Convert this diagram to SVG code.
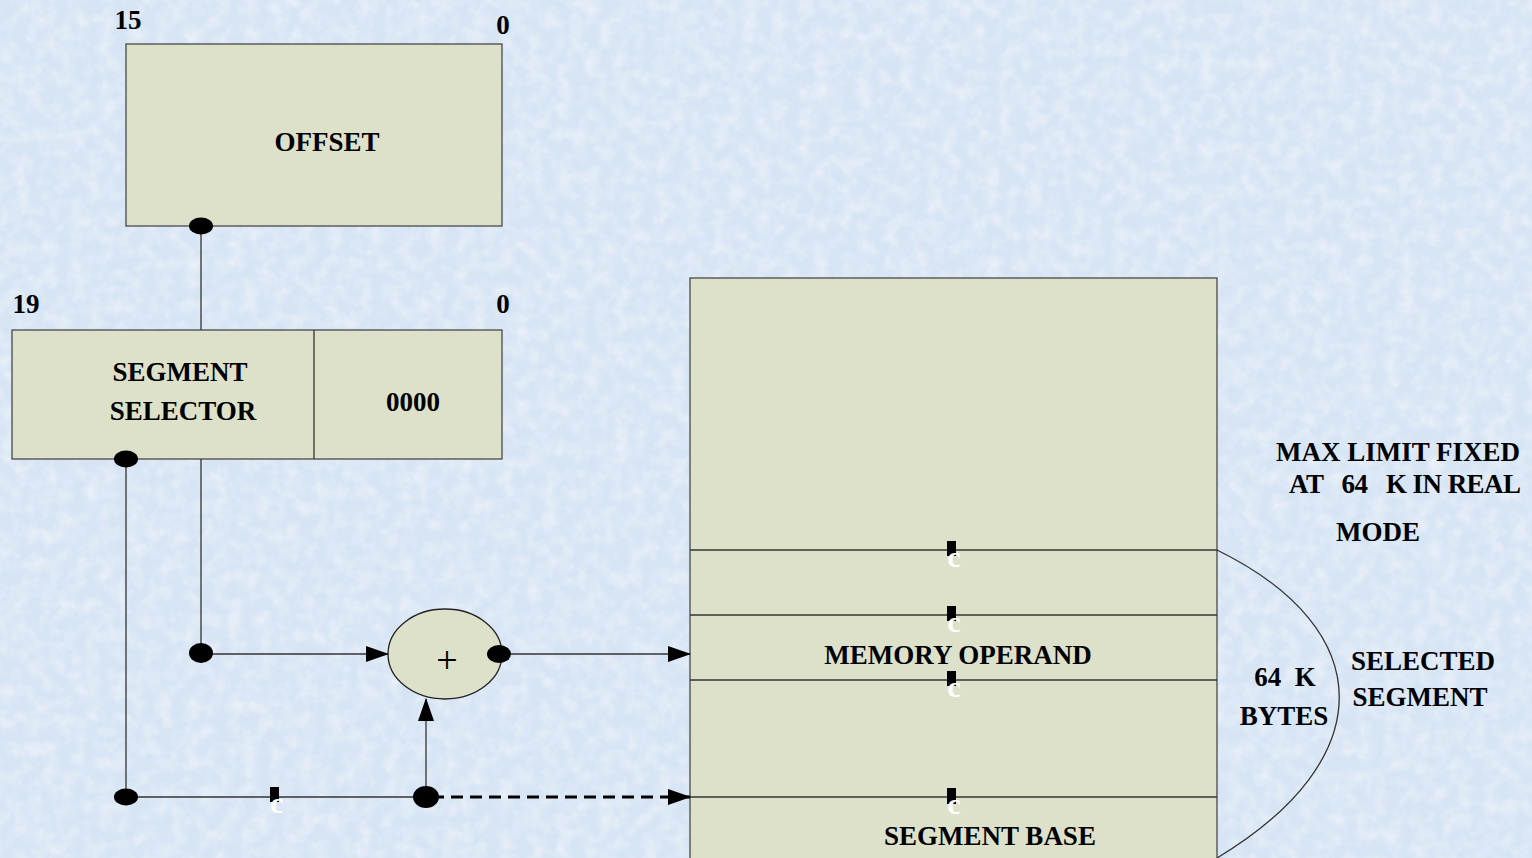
<svg xmlns="http://www.w3.org/2000/svg" width="1532" height="858" viewBox="0 0 1532 858">
<defs>
<marker id="arr" markerWidth="24" markerHeight="18" refX="22" refY="9" orient="auto" markerUnits="userSpaceOnUse">
<path d="M0,1 L23,9 L0,17 Z" fill="#000"/>
</marker>
<filter id="tex" x="0" y="0" width="100%" height="100%">
<feTurbulence type="fractalNoise" baseFrequency="0.07" numOctaves="3" seed="4" result="n"/>
<feColorMatrix in="n" type="matrix" values="0 0 0 0 1  0 0 0 0 1  0 0 0 0 1  0 0 0 1.4 -0.5"/>
</filter>
<style>
.box{fill:#dde1ca;stroke:#3c3c3c;stroke-width:1.2}
.ln{fill:none;stroke:#333;stroke-width:1.3}
.t{font-family:"Liberation Serif","Times New Roman",serif;font-weight:bold;font-size:27px;fill:#000;text-anchor:middle}
.dot{fill:#000}
.mk{fill:#000}
.c{font-family:"Liberation Serif","Times New Roman",serif;font-weight:bold;font-size:30px;fill:#fff;text-anchor:middle}
</style>
</defs>
<rect width="1532" height="858" fill="#d6e4f4"/>
<rect width="1532" height="858" filter="url(#tex)" opacity="0.6"/>

<g id="offset">
<rect class="box" x="126" y="44" width="376" height="182"/>
<text class="t" x="327" y="151">OFFSET</text>
<text class="t" x="128" y="29">15</text>
<text class="t" x="503" y="34">0</text>
</g>

<g id="segment-register">
<rect class="box" x="12" y="330" width="490" height="129"/>
<line class="ln" x1="314" y1="330" x2="314" y2="459"/>
<text class="t" x="180" y="381">SEGMENT</text>
<text class="t" x="183" y="420">SELECTOR</text>
<text class="t" x="413" y="411">0000</text>
<text class="t" x="26" y="313">19</text>
<text class="t" x="503" y="313">0</text>
</g>

<g id="adder">
<ellipse cx="445" cy="654" rx="57" ry="45" fill="#dde1ca" stroke="#222" stroke-width="1.3"/>
<text x="447" y="673" font-family="Liberation Serif,serif" font-size="38" text-anchor="middle" fill="#000">+</text>
</g>

<g id="memory">
<rect class="box" x="690" y="278" width="527" height="590"/>
<line class="ln" x1="690" y1="550" x2="1217" y2="550"/>
<line class="ln" x1="690" y1="615" x2="1217" y2="615"/>
<line class="ln" x1="690" y1="680" x2="1217" y2="680"/>
<line class="ln" x1="690" y1="797" x2="1217" y2="797"/>
<text class="t" x="958" y="664">MEMORY OPERAND</text>
<text class="t" x="990" y="845">SEGMENT BASE</text>
<rect class="mk" x="947" y="541" width="9" height="15"/>
<text class="c" x="954" y="567">c</text>
<rect class="mk" x="947" y="606" width="9" height="15"/>
<text class="c" x="954" y="632">c</text>
<rect class="mk" x="947" y="671" width="9" height="15"/>
<text class="c" x="954" y="697">c</text>
<rect class="mk" x="947" y="788" width="9" height="16"/>
<text class="c" x="954" y="814">c</text>
</g>

<g id="labels">
<text class="t" x="1398" y="461">MAX LIMIT FIXED</text>
<text class="t" x="1289" y="493" style="text-anchor:start" textLength="232" lengthAdjust="spacing" xml:space="preserve">AT   64   K IN REAL</text>
<text class="t" x="1378" y="541">MODE</text>
<text class="t" x="1285" y="686" xml:space="preserve">64  K</text>
<text class="t" x="1284" y="725">BYTES</text>
<text class="t" x="1423" y="670">SELECTED</text>
<text class="t" x="1420" y="706">SEGMENT</text>
</g>

<g id="connectors">
<line class="ln" x1="201" y1="226" x2="201" y2="330"/>
<line class="ln" x1="126" y1="459" x2="126" y2="797"/>
<line class="ln" x1="201" y1="459" x2="201" y2="653"/>
<line class="ln" x1="201" y1="654" x2="388" y2="654" marker-end="url(#arr)"/>
<line class="ln" x1="499" y1="654" x2="690" y2="654" marker-end="url(#arr)"/>
<line class="ln" x1="126" y1="797" x2="426" y2="797"/>
<line class="ln" x1="426" y1="797" x2="426" y2="699" marker-end="url(#arr)"/>
<line x1="432" y1="797" x2="690" y2="797" stroke="#000" stroke-width="3" stroke-dasharray="12,7" marker-end="url(#arr)"/>
<path class="ln" d="M1217,550 C1380,630 1380,760 1217,858"/>
<ellipse class="dot" cx="201" cy="226" rx="12" ry="8.5"/>
<ellipse class="dot" cx="126" cy="459" rx="12" ry="8.5"/>
<ellipse class="dot" cx="201" cy="653" rx="12" ry="10"/>
<ellipse class="dot" cx="499" cy="654" rx="12" ry="9"/>
<ellipse class="dot" cx="126" cy="797" rx="12" ry="8.5"/>
<ellipse class="dot" cx="426" cy="797" rx="13" ry="11"/>
<rect class="mk" x="270" y="787" width="9" height="15"/>
<text class="c" x="277" y="813">c</text>
</g>
</svg>
